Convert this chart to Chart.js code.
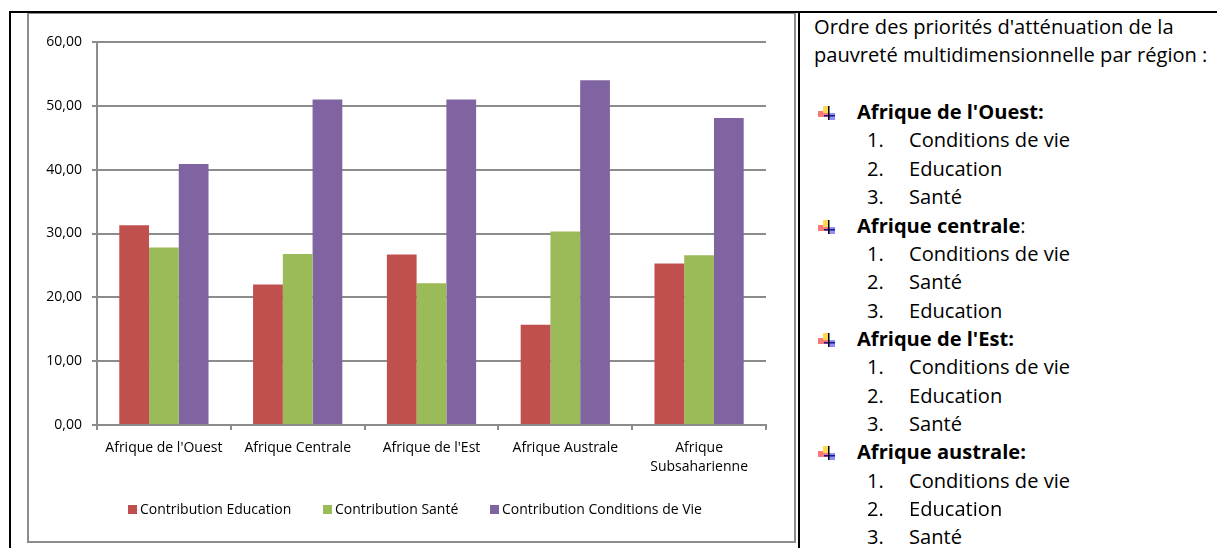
<!DOCTYPE html>
<html lang="fr">
<head>
<meta charset="utf-8">
<title>Contributions à la pauvreté multidimensionnelle</title>
<script src="https://cdn.jsdelivr.net/npm/chart.js@4"></script>
<style>
    html, body { margin: 0; padding: 0; background: #fff; overflow: hidden; }
    body { width: 1217px; height: 548px; position: relative; font-family: "Open Sans", sans-serif; color: #000; }
    #cadre { position: absolute; left: 9px; top: 11px; width: 1208px; height: 537px; border-left: 2px solid #000; border-top: 2px solid #000; box-sizing: border-box; }
    #separateur { position: absolute; left: 798px; top: 11px; width: 2px; height: 537px; background: #000; }
    #boite { position: absolute; left: 27px; top: 13px; width: 769px; height: 530px; border: 2px solid #8c8c8c; border-top: 1px solid #8c8c8c; box-sizing: border-box; }
    #zone { position: absolute; left: 0; top: 0; width: 800px; height: 548px; }
    #legende { position: absolute; left: 0; top: 499px; width: 800px; height: 20px; font-size: 14px; line-height: 20px; white-space: nowrap; }
    #legende i { position: absolute; top: 6px; width: 9px; height: 9px; }
    #legende span { position: absolute; top: 0; }
    #texte { position: absolute; left: 814px; top: 13px; width: 403px; font-size: 20.1px; line-height: 28.37px; }
    #texte div { height: 28.37px; white-space: nowrap; position: relative; }
    .region { padding-left: 43px; }
    .puce { position: absolute; left: 4px; top: 8px; width: 17px; height: 14px; }
    .puce::before { content: ""; position: absolute; inset: 0; filter: blur(0.7px);
        background:
            linear-gradient(#ffd94f, #ffd94f) 5px 0 / 6px 7px no-repeat,
            linear-gradient(#f87a7a, #f87a7a) 0 5px / 10px 6px no-repeat,
            linear-gradient(#8f8ff5, #8f8ff5) 10px 7px / 7px 7px no-repeat; }
    .puce::after { content: ""; position: absolute; inset: 0;
        background:
            linear-gradient(#000, #000) 9.5px 0 / 1.5px 14px no-repeat,
            linear-gradient(#14148c, #14148c) 6px 9px / 11px 1.5px no-repeat; }
    .rang { position: absolute; left: 53px; }
    .libelle { position: absolute; left: 95px; }
</style>
</head>
<body>
<div id="cadre"></div>
<div id="boite"></div>
<div id="separateur"></div>
<div id="zone"><canvas id="grafico" width="800" height="548"></canvas></div>
<div id="legende"></div>
<div id="texte"></div>

<script>
const categories = ["Afrique de l'Ouest", 'Afrique Centrale', "Afrique de l'Est", 'Afrique Australe', ['Afrique', 'Subsaharienne']];
const education = [31.3, 22.0, 26.7, 15.7, 25.3];
const sante = [27.8, 26.8, 22.2, 30.3, 26.6];
const conditionsVie = [40.9, 51.0, 51.0, 54.0, 48.1];

const intro = ["Ordre des priorités d'atténuation de la", 'pauvreté multidimensionnelle par région :'];
const regions = ["Afrique de l'Ouest:", 'Afrique centrale', "Afrique de l'Est:", 'Afrique australe:'];
const priorites = [
    ['Conditions de vie', 'Education', 'Santé'],
    ['Conditions de vie', 'Santé', 'Education'],
    ['Conditions de vie', 'Education', 'Santé'],
    ['Conditions de vie', 'Education', 'Santé']
];

const gris = '#8c8c8c';
const police = { family: '"Open Sans", sans-serif', size: 14, lineHeight: 1.36 };
const departLegende = [128, 323, 490];

// liste de droite
function remplirTexte() {
    const zone = document.getElementById('texte');
    const ligne = (html, classe) => {
        const d = document.createElement('div');
        if (classe) d.className = classe;
        d.innerHTML = html;
        zone.appendChild(d);
    };
    intro.forEach(t => { const d = document.createElement('div'); d.textContent = t; zone.appendChild(d); });
    ligne('&nbsp;');
    regions.forEach((r, i) => {
        const suffixe = r === 'Afrique centrale' ? ':' : '';
        ligne('<span class="puce"></span><b>' + r + '</b>' + suffixe, 'region');
        priorites[i].forEach((p, j) => {
            ligne('<span class="rang">' + (j + 1) + '.</span><span class="libelle">' + p + '</span>');
        });
    });
}
remplirTexte();

// legende en HTML, la pastille est collee au libelle
const legendeHtml = {
    id: 'legendeHtml',
    afterUpdate(chart) {
        const zone = document.getElementById('legende');
        zone.innerHTML = '';
        chart.data.datasets.forEach((d, i) => {
            const pastille = document.createElement('i');
            pastille.style.left = departLegende[i] + 'px';
            pastille.style.background = d.backgroundColor;
            const nom = document.createElement('span');
            nom.style.left = (departLegende[i] + 12) + 'px';
            nom.textContent = d.label;
            zone.append(pastille, nom);
        });
    }
};

function exibirGrafico() {
    const ctx = document.getElementById('grafico').getContext('2d');
    new Chart(ctx, {
        type: 'bar',
        data: {
            labels: categories,
            datasets: [
                { label: 'Contribution Education', data: education, backgroundColor: '#C0504D' },
                { label: 'Contribution Santé', data: sante, backgroundColor: '#9BBB59' },
                { label: 'Contribution Conditions de Vie', data: conditionsVie, backgroundColor: '#8064A2' }
            ]
        },
        plugins: [legendeHtml],
        options: {
            responsive: false,
            animation: false,
            devicePixelRatio: 1,
            categoryPercentage: 0.667,
            barPercentage: 1,
            layout: { padding: { left: 0, right: 34, top: 42, bottom: 64 } },
            plugins: {
                tooltip: { enabled: false },
                legend: { display: false }
            },
            scales: {
                x: {
                    offset: true,
                    grid: { offset: true, drawOnChartArea: false, color: gris, lineWidth: 2, tickLength: 5 },
                    border: { color: gris, width: 2 },
                    ticks: { color: '#000', font: police, maxRotation: 0, autoSkip: false, padding: 8 },
                    afterFit: s => { s.height = 59; }
                },
                y: {
                    min: 0,
                    max: 60,
                    grid: { color: gris, lineWidth: 2, tickLength: 5 },
                    border: { color: gris, width: 2 },
                    ticks: {
                        stepSize: 10,
                        color: '#000',
                        font: police,
                        padding: 10,
                        callback: v => v.toFixed(2).replace('.', ',')
                    },
                    afterFit: s => { s.width = 97; }
                }
            }
        }
    });
}
exibirGrafico();
</script>
</body>
</html>
